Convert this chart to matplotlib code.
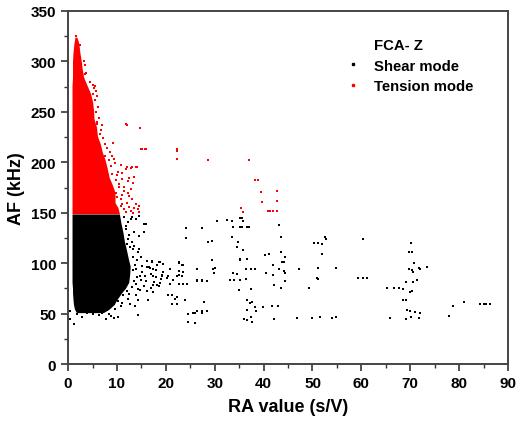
import matplotlib
matplotlib.use("Agg")
import matplotlib.pyplot as plt
from matplotlib.lines import Line2D

plt.rcParams['font.family'] = ['Liberation Sans', 'DejaVu Sans']
plt.rcParams['font.weight'] = 'bold'

# dense cores of the two clouds, read as RA extent per AF band
tension_band_af = [149, 155, 160, 170, 177, 185, 194, 202, 210, 218, 226, 235, 243,
                   252, 260, 268, 276, 284, 292, 300, 309, 318, 324]
tension_band_lo = [0.8, 0.8, 0.8, 0.8, 0.8, 0.8, 0.8, 0.8, 0.8, 0.8, 0.8, 0.8, 0.8,
                   0.8, 0.8, 0.8, 0.8, 0.9, 0.9, 0.9, 1.0, 1.2, 1.4]
tension_band_hi = [10.5, 10.2, 9.6, 9.6, 9.1, 8.4, 8.0, 7.6, 7.0, 6.6, 6.0, 5.8, 5.3,
                   5.2, 5.0, 4.6, 3.9, 3.2, 2.9, 2.7, 2.4, 2.2, 1.8]

shear_band_af = [148.7, 140, 131, 122, 114, 105, 97, 89, 81, 75, 71, 64, 59, 54.5, 51]
shear_band_lo = [0.8, 0.8, 0.8, 0.8, 0.8, 0.8, 0.8, 0.8, 0.8, 0.9, 0.9, 1.0, 1.1, 1.3, 1.7]
shear_band_hi = [10.5, 10.8, 11.2, 11.5, 11.9, 12.3, 12.7, 12.6, 12.4, 11.7, 11.0, 10.0, 9.4, 8.4, 7.2]

# scattered tension-mode hits
tension_ra = [1.6, 2.5, 2.9, 3.6, 3.5, 5.3, 5.7, 5.0, 6.0, 3.6, 4.3, 6.0, 7.0,
              9.4, 10.8, 11.8, 12.8, 13.8, 10.1, 11.1, 12.5, 13.5, 10.4, 11.5, 12.8,
              9.8, 11.1, 12.5, 10.8, 12.1, 13.8, 14.5, 11.5, 12.8, 14.2, 12.0, 13.0, 14.0,
              9.1, 11.8, 12.0, 14.7, 15.0, 15.1, 15.7, 16.0, 22.2, 22.2, 22.2, 28.6, 37.0,
              38.2, 38.9, 39.5, 42.7, 39.7, 42.7, 40.8, 41.4, 42.0, 42.7, 35.3, 35.7,
              3.2, 3.5, 3.1, 4.5, 5.0, 5.6, 4.2, 5.6, 6.2, 5.8, 6.3, 6.0, 6.8, 6.5, 7.2,
              7.6, 8.0, 8.5, 9.0, 8.3, 9.6, 10.2, 9.0, 9.8, 10.5, 11.5, 12.2, 10.0, 13.0,
              11.0, 12.5, 13.5, 11.8, 13.2, 14.6, 10.8, 9.8, 12.3, 13.2, 11.0, 8.8, 7.5]
tension_af = [325, 316, 288, 289, 288, 274, 271, 268, 266, 261, 258, 238, 237,
              203, 197, 193, 194, 195, 187, 183, 184, 185, 178, 176, 174,
              170, 168, 167, 164, 160, 159, 157, 154, 152, 154, 195, 195, 195,
              219, 238, 237, 234, 213, 213, 213, 213, 213, 211, 203, 202, 202,
              182, 182, 171, 172, 161, 162, 152, 152, 152, 152, 155, 151,
              300, 296, 283, 280, 277, 276, 270, 262, 255, 250, 244, 240, 232, 228, 224,
              218, 214, 210, 206, 202, 199, 190, 188, 182, 176, 172, 170, 166, 164,
              159, 156, 155, 150.5, 150, 151, 157, 153, 181, 179, 189, 196, 206]

# scattered shear-mode hits
shear_ra = [0.4, 1.2, 0.4, 1.9, 2.9, 7.4, 8.4, 9.4, 9.4, 10.8,
            12.8, 13.8, 15.5, 11.8, 13.5, 14.5, 12.1, 13.2, 14.2, 14.9, 16.2, 17.2, 18.6,
            13.8, 15.2, 16.9, 17.9, 19.0, 13.8, 15.5, 16.9, 12.5, 13.8, 12.7, 13.7, 14.4, 14.4,
            16.0, 24.1, 24.1, 27.3, 30.4, 32.5, 33.5, 33.8, 35.2, 35.5, 29.4, 28.7, 33.5,
            29.4, 30.1, 35.2, 16.8, 18.1, 19.5, 22.6, 23.6, 22.6, 21.5, 19.2, 20.2, 18.1,
            26.3, 27.3, 23.6, 24.3, 20.5, 21.9, 22.2, 27.7, 25.6, 26.0, 27.4, 24.6, 24.6, 26.0,
            16.4, 35.9, 37.6, 36.5, 37.2,
            17.1, 18.8, 19.5, 22.6, 23.3, 16.1, 17.4, 20.9, 22.6, 23.6, 26.3, 29.7, 29.9,
            14.7, 15.7, 17.4, 19.2, 20.5, 22.2, 23.3, 26.3, 27.3, 28.4, 20.9, 22.6, 23.6,
            17.4, 18.5, 14.7, 16.1, 17.4, 21.2, 22.2, 23.9, 21.2, 26.3, 27.3, 28.4,
            35.2, 35.7, 33.8, 35.5, 36.5, 37.1, 43.2, 33.5, 43.6, 34.8, 34.5, 35.7,
            50.3, 51.2, 52.0, 52.6, 52.8, 52.0, 60.3, 70.1, 69.8, 70.4, 40.2, 41.0,
            43.6, 44.4, 35.2, 36.5, 43.7, 44.2, 42.0, 70.8, 73.4, 71.7, 72.0,
            69.8, 70.3, 70.6, 47.2, 51.2, 54.8, 37.4, 38.2, 36.4, 43.1, 44.2, 44.4,
            40.4, 41.9, 33.8, 34.5, 33.1, 34.0, 35.2, 36.4, 44.4, 50.9, 51.2,
            59.3, 60.3, 61.1, 69.1, 70.6, 71.3, 42.2, 43.6, 35.0, 37.4, 49.3,
            65.2, 66.7, 67.6, 68.6, 70.0, 70.3, 36.7, 37.6, 68.6, 69.1,
            38.2, 39.8, 41.7, 43.0, 78.8, 81.0, 84.3, 85.0, 85.6, 86.3,
            36.7, 38.5, 69.3, 70.0, 71.0, 72.0, 35.9, 36.5, 37.4, 37.7, 42.2,
            46.9, 49.8, 51.5, 53.9, 54.8, 65.9, 69.1, 70.2, 71.8, 78.0,
            11.5, 12.2, 13.0, 14.6, 11.8, 12.5, 15.6, 12.3, 13.0, 12.6, 13.5, 14.6,
            13.2, 14.0, 13.6, 15.2, 16.6, 18.0, 19.5, 13.2, 14.0, 15.0, 16.0, 17.5,
            18.8, 13.4, 13.0, 14.2, 12.0, 11.2, 12.3, 10.2, 11.0, 9.6, 8.0, 7.0,
            6.3, 5.0, 3.8, 2.6, 8.8, 10.3, 7.8]
shear_af = [45, 40, 53, 50, 47, 53, 50, 46, 60, 58,
            144, 144, 139, 134, 131, 127, 119, 114, 111, 106, 102, 101, 101,
            94, 91, 89, 86, 84, 79, 77, 75, 69, 68, 60, 58, 49, 64,
            139, 135, 125, 135, 142, 143, 142, 136, 136, 145, 122, 121, 126,
            103, 95, 104, 95, 98, 99, 100, 98, 88, 83, 88, 85, 78,
            83, 83, 79, 79, 68, 65, 60, 62, 51, 51, 51, 50, 42, 41,
            64, 45, 42, 64, 61,
            102, 101, 99, 101, 98, 96, 94, 94, 92, 91, 94, 94, 90,
            87, 87, 87, 87, 87, 87, 87, 82, 82, 82, 79, 79, 79,
            78, 77, 73, 72, 71, 68, 66, 64, 60, 53, 53, 53,
            145, 142, 136, 136, 136, 136, 138, 126, 126, 121, 116, 113,
            120, 120, 119, 126, 124, 109, 124, 120, 111, 111, 108, 109,
            111, 106, 103, 104, 101, 101, 98, 100, 96, 95, 94,
            94, 93, 91, 94, 95, 95, 94, 94, 94, 94, 92, 90,
            90, 88, 90, 89, 83, 83, 83, 84, 82, 85, 84,
            85, 85, 85, 81, 81, 83, 78, 75, 73, 74, 75,
            75, 75, 75, 74, 71, 72, 64, 62, 64, 64,
            57, 57, 58, 58, 58, 62, 60, 60, 60, 60,
            54, 53, 54, 53, 52, 51, 45, 44, 47, 42, 45,
            46, 46, 47, 46, 47, 46, 45, 47, 46, 48,
            146, 141, 146, 147, 137, 128, 131, 124, 121, 116, 117, 114,
            106, 103, 98, 97, 96, 93, 91, 93, 86, 83, 82, 81,
            80, 82, 76, 74, 72, 68, 65, 63, 61, 55, 54, 51,
            49, 50, 51, 52, 48, 47, 45]

fig, ax = plt.subplots(figsize=(5.16, 4.27), dpi=100)
fig.subplots_adjust(left=0.132, right=0.9845, bottom=0.145, top=0.972)

ax.fill_betweenx(tension_band_af, tension_band_lo, tension_band_hi,
                 color='#ff0000', linewidth=0, zorder=2)
ax.fill_betweenx(shear_band_af, shear_band_lo, shear_band_hi,
                 color='black', linewidth=0, zorder=2)
ax.scatter(tension_ra, tension_af, s=4.5, marker='s', color='#ff0000',
           linewidths=0, zorder=3)
ax.scatter(shear_ra, shear_af, s=4.5, marker='s', color='black',
           linewidths=0, zorder=3)

ax.set_xlim(0, 90)
ax.set_ylim(0, 350)
ax.set_xticks(range(0, 91, 10))
ax.set_xticks(range(5, 90, 10), minor=True)
ax.set_yticks(range(0, 351, 50))
ax.set_yticks(range(25, 350, 50), minor=True)
ax.tick_params(which='major', length=5, width=1.2, labelsize=11, colors='#333333',
               labelcolor='black')
ax.tick_params(which='minor', length=3, width=1.0, colors='#333333')
for sp in ax.spines.values():
    sp.set_linewidth(1.4)
    sp.set_color('#444444')

ax.set_xlabel('RA value (s/V)', fontsize=13, fontweight='bold', labelpad=6)
ax.set_ylabel('AF (kHz)', fontsize=13, fontweight='bold', labelpad=4)

handles = [Line2D([], [], linestyle='none'),
           Line2D([], [], marker='s', markersize=2, color='black', linestyle='none'),
           Line2D([], [], marker='s', markersize=2, color='#ff0000', linestyle='none')]
leg = ax.legend(handles, ['FCA- Z', 'Shear mode', 'Tension mode'],
                loc='upper left', bbox_to_anchor=(0.6, 0.96), frameon=False,
                fontsize=10.7, handlelength=1.0, handletextpad=0.9, labelspacing=0.42)
for t in leg.get_texts():
    t.set_fontweight('bold')

fig.savefig('out.png', dpi=100)
